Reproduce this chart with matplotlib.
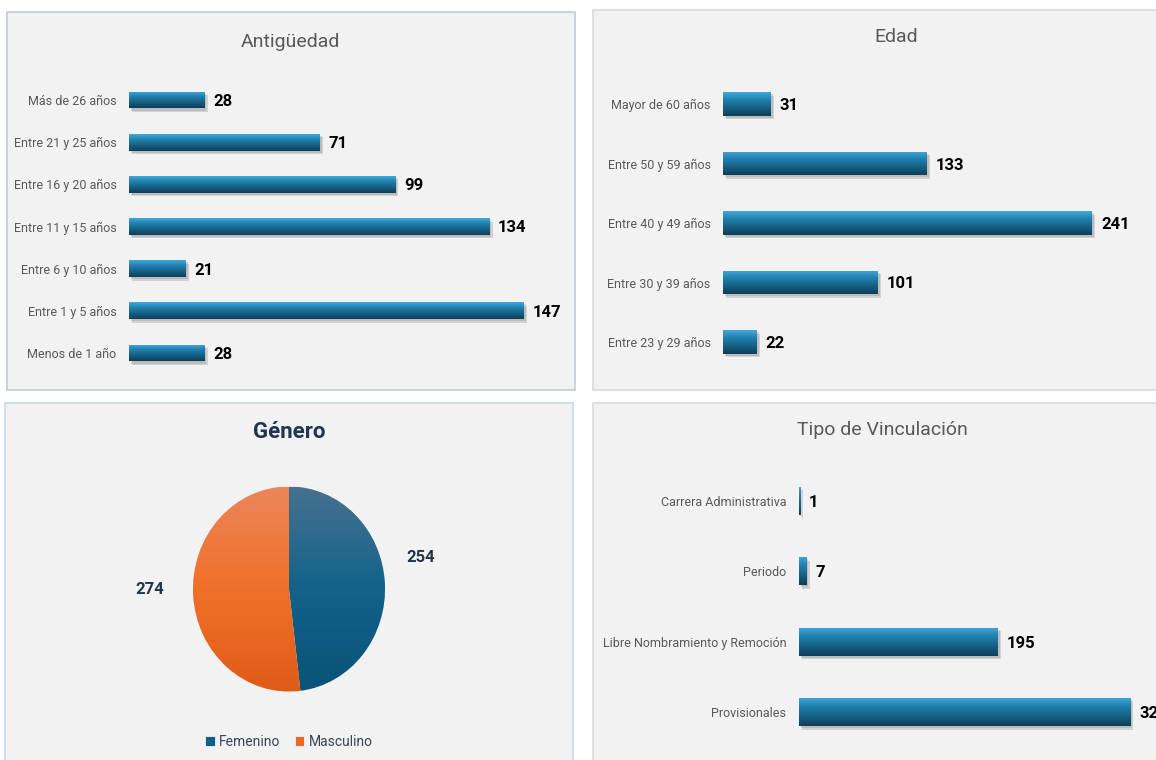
import numpy as np
import matplotlib
matplotlib.use('Agg')
import matplotlib.pyplot as plt
import matplotlib.patheffects as pe
from matplotlib.patches import Rectangle
from matplotlib.colors import LinearSegmentedColormap

plt.rcParams['font.family'] = ['Liberation Sans Narrow', 'Roboto', 'DejaVu Sans']

antig_labels = ['Menos de 1 año', 'Entre 1 y 5 años', 'Entre 6 y 10 años', 'Entre 11 y 15 años',
                'Entre 16 y 20 años', 'Entre 21 y 25 años', 'Más de 26 años']
antig_values = [28, 147, 21, 134, 99, 71, 28]

edad_labels = ['Entre 23 y 29 años', 'Entre 30 y 39 años', 'Entre 40 y 49 años',
               'Entre 50 y 59 años', 'Mayor de 60 años']
edad_values = [22, 101, 241, 133, 31]

tipo_labels = ['Provisionales', 'Libre Nombramiento y Remoción', 'Periodo', 'Carrera Administrativa']
tipo_values = [325, 195, 7, 1]

genero_labels = ['Femenino', 'Masculino']
genero_values = [254, 274]

W, H = 1156, 760
fig = plt.figure(figsize=(W / 100, H / 100), dpi=100)
fig.patch.set_facecolor('white')


def box(x0, y0, x1, y1):
    # pixel box (top-left origin) -> figure fraction rect
    return [x0 / W, 1 - y1 / H, (x1 - x0) / W, (y1 - y0) / H]


def panel(x0, y0, x1, y1, edge):
    r = Rectangle((x0 / W, 1 - y1 / H), (x1 - x0) / W, (y1 - y0) / H, transform=fig.transFigure,
                  facecolor='#F2F2F2', edgecolor=edge, linewidth=1.2, zorder=-1)
    fig.add_artist(r)


panel(7, 12, 575, 390, '#C3CAD8')
panel(593, 10, 1160, 390, '#DADADA')
panel(5, 403, 573, 765, '#C5D9EC')
panel(593, 403, 1160, 765, '#DADADA')

bar_cmap = LinearSegmentedColormap.from_list('bar', ['#0E3E58', '#175F83', '#1F7FAD', '#42A8DA'])
grad = np.linspace(0, 1, 100).reshape(-1, 1)


def gradient_bars(ax, labels, values, xmax):
    y = np.arange(len(values))
    bars = ax.barh(y, values, height=0.4, color='#1B6E96', linewidth=0, zorder=2,
                   path_effects=[pe.SimplePatchShadow(offset=(2.5, -2.5), shadow_rgbFace='#8a8a8a', alpha=0.3),
                                 pe.SimplePatchShadow(offset=(1.5, -1.5), shadow_rgbFace='#8a8a8a', alpha=0.3),
                                 pe.Normal()])
    for b, v in zip(bars, values):
        im = ax.imshow(grad, cmap=bar_cmap, origin='lower', aspect='auto', zorder=3,
                       extent=[b.get_x(), b.get_x() + b.get_width(), b.get_y(), b.get_y() + b.get_height()])
        im.set_clip_path(b)
        ax.annotate(str(v), (v, b.get_y() + b.get_height() / 2), xytext=(6.5, 0), textcoords='offset points',
                    va='center_baseline', ha='left', fontsize=12, fontweight='bold', color='black',
                    annotation_clip=False)
    ax.set_yticks(y, labels)
    ax.set_xticks([])
    ax.set_xlim(0, xmax)
    ax.set_ylim(-0.5, len(values) - 0.5)
    for s in ax.spines.values():
        s.set_visible(False)
    ax.tick_params(axis='y', length=0, pad=9, labelsize=9, labelcolor='#595959')
    ax.patch.set_visible(False)


# Antigüedad
ax1 = fig.add_axes(box(129, 78.9, 570, 374.1))
gradient_bars(ax1, antig_labels, antig_values, 441 / 2.687)
fig.text(290 / W, 1 - 42 / H, 'Antigüedad', ha='center', va='center', fontsize=14, color='#595959')

# Edad
ax2 = fig.add_axes(box(723, 74.25, 1150, 371.75))
gradient_bars(ax2, edad_labels, edad_values, 427 / 1.531)
fig.text(896 / W, 1 - 37 / H, 'Edad', ha='center', va='center', fontsize=14, color='#595959')

# Tipo de Vinculación
ax3 = fig.add_axes(box(799, 465.8, 1156, 747.2))
gradient_bars(ax3, tipo_labels, tipo_values, 357 / 1.0185)
fig.text(882 / W, 1 - 430 / H, 'Tipo de Vinculación', ha='center', va='center', fontsize=14, color='#595959')

# Género
axp = fig.add_axes(box(145, 466, 433, 712))
wedges, _ = axp.pie(genero_values, startangle=90, counterclock=False,
                    colors=['#135F84', '#E96A24'], wedgeprops=dict(linewidth=0.6, edgecolor='#F2F2F2'))
pie_cmaps = [LinearSegmentedColormap.from_list('fem', ['#0A5276', '#12628A', '#46718F']),
             LinearSegmentedColormap.from_list('mas', ['#DF5C18', '#F07029', '#EC855A'])]
for w, cm in zip(wedges, pie_cmaps):
    im = axp.imshow(grad, cmap=cm, origin='lower', aspect='auto', extent=[-1, 1, -1, 1], zorder=3)
    im.set_clip_path(w)
axp.set_aspect('auto')
axp.set_xlim(-1.5, 1.5)
axp.set_ylim(-1.2, 1.2)
axp.axis('off')
label_pos = [(1.37, 0.32), (-1.45, 0.01)]
for (lx, ly), v in zip(label_pos, genero_values):
    axp.text(lx, ly, str(v), ha='center', va='center_baseline', fontsize=12, fontweight='bold',
             color='#243447', clip_on=False)
fig.text(289 / W, 1 - 432 / H, 'Género', ha='center', va='center', fontsize=16, fontweight='bold',
         color='#1F3550')
fig.legend(wedges, genero_labels, loc='center', bbox_to_anchor=(289 / W, 1 - 742 / H), ncol=2,
           frameon=False, fontsize=10, handlelength=0.7, handleheight=0.7, handletextpad=0.3,
           columnspacing=1.0, labelcolor='#3A4556')

fig.savefig('out.png', dpi=100)
